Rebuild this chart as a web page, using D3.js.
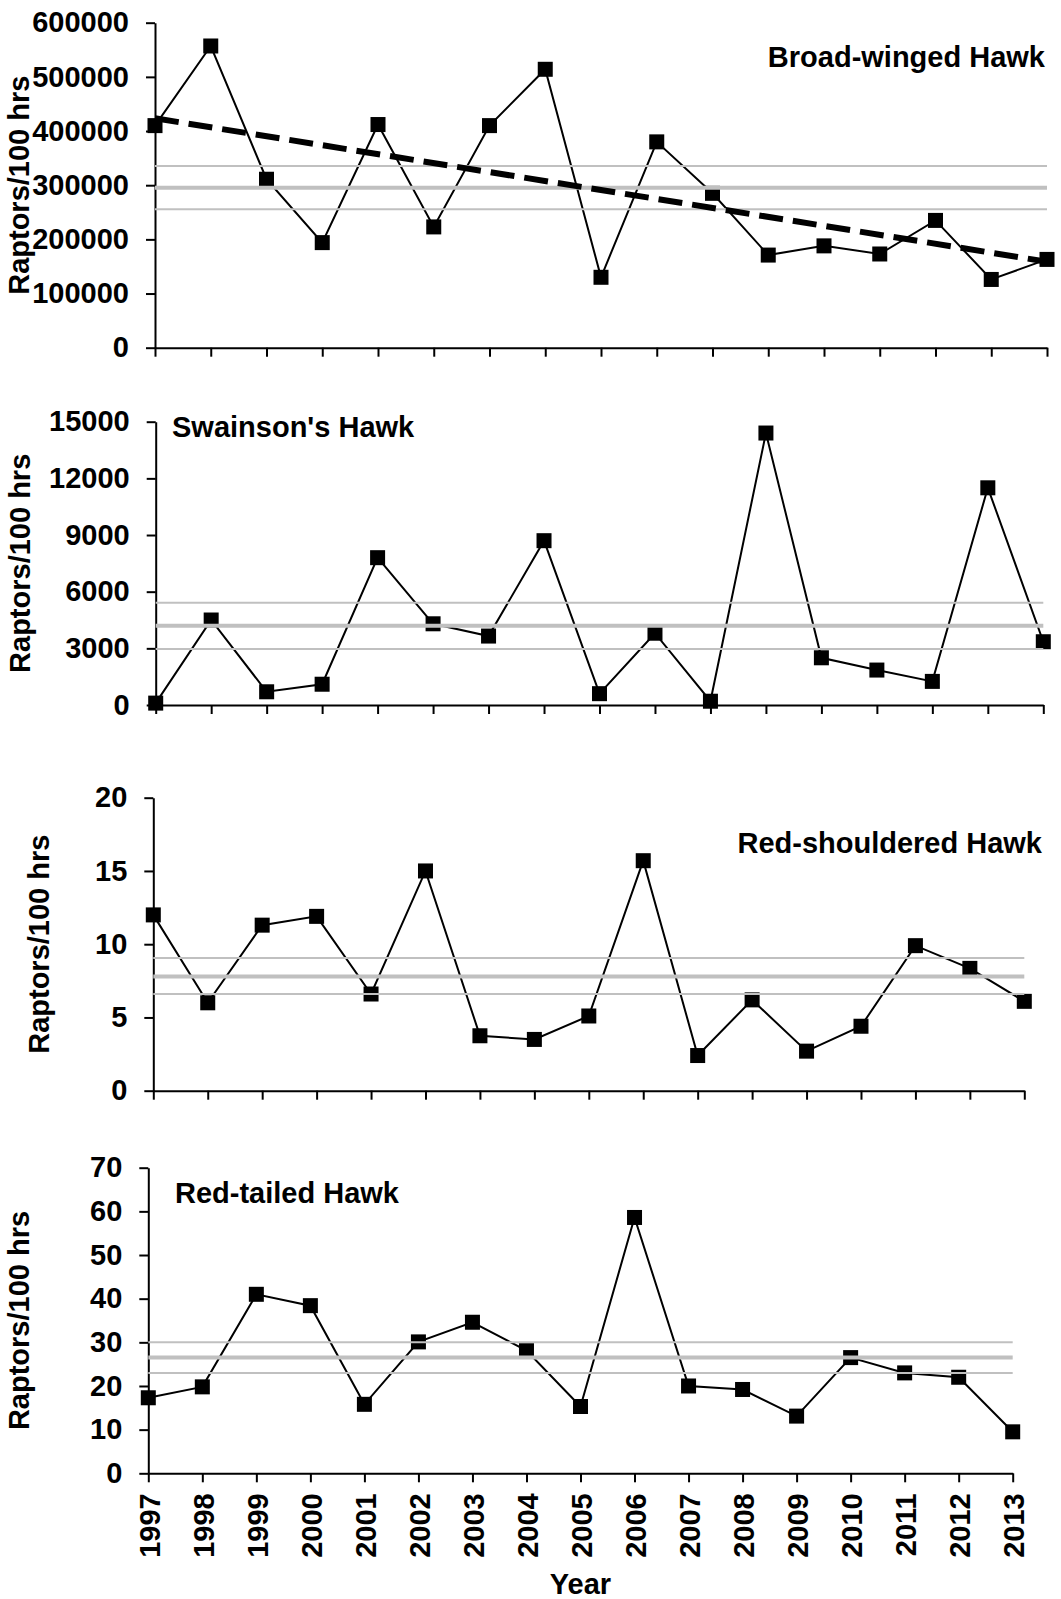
<!DOCTYPE html>
<html>
<head>
<meta charset="utf-8">
<script src="https://cdn.jsdelivr.net/npm/d3@7"></script>
<style>
body { margin: 0; background: #fff; }
text { font-family: Arial, "Liberation Sans", sans-serif; font-weight: bold; font-size: 29px; fill: #000; }
</style>
</head>
<body>
<svg width="1061" height="1599"></svg>
<script>
var years = [1997, 1998, 1999, 2000, 2001, 2002, 2003, 2004, 2005, 2006, 2007, 2008, 2009, 2010, 2011, 2012, 2013];

// Broad-winged Hawk
var broadWinged = [410000, 557000, 311000, 194000, 412000, 223000, 410000, 514000, 130000, 380000, 285000, 171000, 188000, 173000, 235000, 126000, 163000];
var broadWingedBand = [255500, 295500, 335500];
var broadWingedTrend = [423500, 158800];
var broadWingedTicks = [0, 100000, 200000, 300000, 400000, 500000, 600000];

// Swainson's Hawk
var swainsons = [100, 4500, 700, 1100, 7800, 4300, 3650, 8700, 600, 3800, 200, 14400, 2500, 1850, 1250, 11500, 3350];
var swainsonsBand = [2970, 4200, 5420];
var swainsonsTicks = [0, 3000, 6000, 9000, 12000, 15000];

// Red-shouldered Hawk
var redShouldered = [12.0, 6.0, 11.3, 11.9, 6.6, 15.0, 3.75, 3.5, 5.1, 15.7, 2.4, 6.2, 2.7, 4.4, 9.9, 8.35, 6.1];
var redShoulderedBand = [6.6, 7.8, 9.05];
var redShoulderedTicks = [0, 5, 10, 15, 20];

// Red-tailed Hawk
var redTailed = [17.3, 19.8, 41.0, 38.4, 15.8, 30.1, 34.6, 28.1, 15.3, 58.6, 20.0, 19.2, 13.1, 26.5, 23.0, 22.0, 9.5];
var redTailedBand = [23.0, 26.5, 30.0];
var redTailedTicks = [0, 10, 20, 30, 40, 50, 60, 70];

var svg = d3.select('svg');
var marker_size = 15;
var band_color = '#c0c0c0';

function draw_panel(p)
{
	var x = d3.scaleLinear()
		.domain([years[0], years[years.length - 1]])
		.range([p.left, p.right]);
	var y = d3.scaleLinear()
		.domain([0, d3.max(p.ticks)])
		.range([p.bottom, p.top]);
	var g = svg.append('g');

	// Axes
	var y_axis = g.append('g')
		.attr('transform', 'translate(' + p.left + ',0)')
		.call(d3.axisLeft(y).tickValues(p.ticks).tickFormat(d3.format('d'))
			.tickSize(9).tickPadding(17).tickSizeOuter(0));
	var x_axis = g.append('g')
		.attr('transform', 'translate(0,' + p.bottom + ')')
		.call(d3.axisBottom(x).tickValues(years).tickSize(9).tickSizeOuter(0)
			.tickFormat(p.show_years ? d3.format('d') : ''));
	[y_axis, x_axis].forEach(function(a)
	{
		a.attr('font-size', null).attr('font-family', null);
		a.selectAll('path, line').attr('stroke-width', 2);
	});
	if(p.show_years)
		x_axis.selectAll('text')
			.attr('transform', 'rotate(-90)')
			.attr('text-anchor', 'end')
			.attr('x', -20)
			.attr('y', 0)
			.attr('dy', '0.38em');

	// Series
	g.append('path')
		.datum(p.values)
		.attr('fill', 'none')
		.attr('stroke', '#000')
		.attr('stroke-width', 2)
		.attr('d', d3.line().x((d, i) => x(years[i])).y(d => y(d)));
	g.selectAll('.marker')
		.data(p.values)
		.enter().append('rect')
		.attr('class', 'marker')
		.attr('x', (d, i) => x(years[i]) - marker_size / 2)
		.attr('y', d => y(d) - marker_size / 2)
		.attr('width', marker_size)
		.attr('height', marker_size)
		.attr('fill', '#000');

	// Mean and confidence band
	g.selectAll('.band')
		.data(p.band)
		.enter().append('line')
		.attr('class', 'band')
		.attr('x1', x(years[0]))
		.attr('x2', x(years[years.length - 1]))
		.attr('y1', d => y(d))
		.attr('y2', d => y(d))
		.attr('stroke', band_color)
		.attr('stroke-width', (d, i) => i === 1 ? 4 : 2);

	// Trend
	if(p.trend)
		g.append('line')
			.attr('x1', x(years[0]))
			.attr('x2', x(years[years.length - 1]))
			.attr('y1', y(p.trend[0]))
			.attr('y2', y(p.trend[1]))
			.attr('stroke', '#000')
			.attr('stroke-width', 6)
			.attr('stroke-dasharray', '24,10');

	// Labels
	g.append('text')
		.attr('x', p.title_x)
		.attr('y', p.title_y)
		.attr('text-anchor', p.title_anchor)
		.text(p.title);
	g.append('text')
		.attr('transform', 'translate(' + p.label_x + ',' + (p.top + p.bottom) / 2 + ') rotate(-90)')
		.attr('text-anchor', 'middle')
		.text('Raptors/100 hrs');
}

draw_panel({ values: broadWinged, band: broadWingedBand, trend: broadWingedTrend, ticks: broadWingedTicks,
	left: 155, right: 1047, top: 22.7, bottom: 347.7, label_x: 29,
	title: 'Broad-winged Hawk', title_x: 1045, title_y: 67, title_anchor: 'end' });
draw_panel({ values: swainsons, band: swainsonsBand, ticks: swainsonsTicks,
	left: 155.7, right: 1043.3, top: 421.7, bottom: 705, label_x: 30,
	title: "Swainson's Hawk", title_x: 172, title_y: 437, title_anchor: 'start' });
draw_panel({ values: redShouldered, band: redShoulderedBand, ticks: redShoulderedTicks,
	left: 153.3, right: 1024.3, top: 797.7, bottom: 1090.7, label_x: 49,
	title: 'Red-shouldered Hawk', title_x: 1042, title_y: 853, title_anchor: 'end' });
draw_panel({ values: redTailed, band: redTailedBand, ticks: redTailedTicks,
	left: 148.3, right: 1012.7, top: 1167.7, bottom: 1473.3, label_x: 29, show_years: true,
	title: 'Red-tailed Hawk', title_x: 175, title_y: 1203, title_anchor: 'start' });

svg.append('text')
	.attr('x', (148.3 + 1012.7) / 2)
	.attr('y', 1594)
	.attr('text-anchor', 'middle')
	.text('Year');
</script>
</body>
</html>
